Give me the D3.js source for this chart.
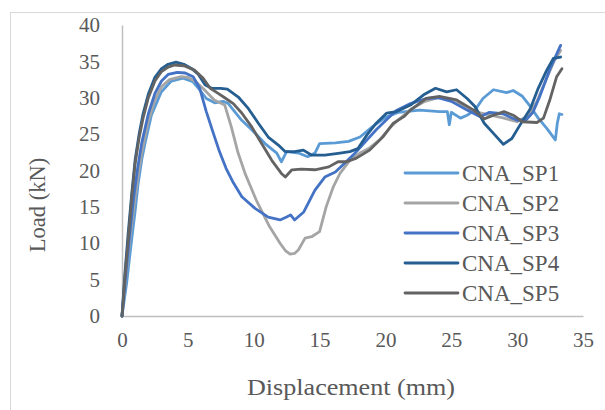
<!DOCTYPE html>
<html lang="en">
<head>
  <meta charset="UTF-8" />
  <title>Load vs Displacement</title>
  <style>
    body { margin: 0; background: #fff; }
    svg { display: block; }
    text { font-family: "Liberation Serif", "Times New Roman", serif; fill: #595959; }
  </style>
</head>
<body>
  <svg width="605" height="410"></svg>

  <script src="https://d3js.org/d3.v7.min.js"></script>
  <script>
    // series names and colours
    const seriesNames = ['CNA_SP1', 'CNA_SP2', 'CNA_SP3', 'CNA_SP4', 'CNA_SP5'];
    const seriesColors = ['#5B9BD5', '#A5A5A5', '#4472C4', '#255E91', '#636363'];

    // tick values
    const xTicks = [0, 5, 10, 15, 20, 25, 30, 35];
    const yTicks = [0, 5, 10, 15, 20, 25, 30, 35, 40];

    // [displacement (mm), load (kN)]
    const sp1 = [[0,0],[0.35,4.5],[0.7,10],[1.0,14.5],[1.21,18],[1.5,21.5],[1.72,23.5],[2.23,27.6],[2.98,30.8],
      [3.74,32.3],[4.63,32.7],[5.39,32.2],[5.9,31.1],[6.4,29.9],[7.04,29.3],[7.67,29.5],[8.07,29.2],[8.6,28.0],
      [9.09,26.9],[9.85,25.6],[10.86,23.7],[11.75,22.4],[12.1,21.2],[12.5,22.6],[13.4,22.4],[14.1,21.9],[14.65,22.4],
      [15.0,23.7],[16.2,23.8],[17.2,24.0],[18.07,24.6],[19.0,26.0],[20.0,27.3],[21.0,28.0],[22.6,28.3],[24.1,28.1],
      [24.7,28.1],[24.85,26.3],[25.0,28.0],[25.7,27.2],[26.2,27.6],[26.8,28.3],[27.4,29.9],[28.2,31.1],[29.2,30.7],
      [29.7,31.0],[30.4,30.2],[31.0,28.8],[31.6,27.2],[32.25,25.8],[32.9,24.2],[33.05,26.5],[33.2,27.8],[33.4,27.7]];
    const sp2 = [[0,0],[0.3,5.5],[0.6,10.5],[0.9,15],[1.2,19],[1.5,22.5],[2.0,26.8],[2.5,29.7],[3.0,31.5],[3.6,32.5],
      [4.5,32.9],[5.0,32.8],[5.6,32.2],[6.2,31.2],[7.0,29.7],[7.8,29.0],[8.3,26.0],[8.8,22.5],[9.34,19.6],[10.2,15.9],
      [11.2,12.3],[12.0,10.0],[12.4,9.0],[12.76,8.5],[13.1,8.6],[13.4,9.1],[13.9,10.7],[14.4,10.9],[15.0,11.6],
      [15.5,15.0],[16.05,17.8],[16.55,19.6],[17.3,21.4],[18.07,22.4],[18.8,23.1],[19.6,24.3],[20.3,25.8],[21.0,27.0],
      [22.0,28.5],[23.0,29.5],[24.0,30.0],[25.0,29.6],[26.0,28.8],[27.0,28.0],[28.0,27.6],[29.0,27.2],[30.0,26.7],
      [30.8,27.5],[31.5,29.5],[32.2,32.5],[32.8,35.0],[33.3,36.5]];
    const sp3 = [[0,0],[0.3,6],[0.6,11.5],[0.9,16.5],[1.2,20.5],[1.5,23.8],[2.0,27.8],[2.5,30.6],[3.0,32.3],[3.5,33.2],
      [4.2,33.5],[4.8,33.4],[5.4,32.9],[5.9,31.3],[6.4,28.1],[6.9,25.3],[7.4,22.6],[7.9,20.3],[8.4,18.5],[9.1,16.4],
      [10.1,14.8],[11.1,13.6],[12.0,13.2],[12.5,13.6],[12.8,13.9],[13.1,13.2],[13.8,14.3],[14.65,17.3],[15.4,19.1],
      [16.2,19.8],[16.9,21.0],[17.7,22.4],[18.5,24.0],[19.3,25.6],[20.1,27.0],[20.8,28.2],[21.9,29.2],[23.1,29.9],
      [24.0,30.0],[25.0,29.5],[26.2,28.3],[27.2,27.4],[27.9,28.0],[28.9,27.8],[30.0,26.9],[30.7,27.0],[31.2,28.0],
      [31.7,30.1],[32.5,34.0],[33.3,37.2]];
    const sp4 = [[0,0],[0.25,6.5],[0.5,12],[0.75,17],[1.0,21.5],[1.3,25],[1.6,27.8],[2.0,30.5],[2.5,32.8],[3.0,34.0],
      [3.5,34.6],[4.1,34.9],[4.7,34.6],[5.3,34.0],[5.8,33.2],[6.3,31.8],[6.8,31.3],[7.5,31.3],[8.0,31.2],[8.83,30.1],
      [9.6,28.5],[10.35,26.5],[11.1,24.6],[11.87,23.5],[12.38,22.6],[13.1,22.6],[13.77,22.8],[14.4,22.1],[15.4,22.1],
      [16.55,22.4],[17.3,22.6],[17.9,23.0],[18.6,24.9],[19.3,26.5],[20.1,27.9],[20.86,28.1],[21.9,29.0],[22.9,30.4],
      [23.8,31.3],[24.65,30.8],[25.4,31.1],[26.2,29.9],[26.8,28.8],[27.5,26.5],[28.2,25.1],[28.95,23.6],[29.6,24.4],
      [30.2,26.2],[31.0,28.5],[31.6,31.3],[32.25,33.8],[32.75,35.4],[33.3,35.6]];
    const sp5 = [[0,0],[0.25,6],[0.5,11],[0.75,16.5],[1.0,21],[1.3,24.5],[1.6,27.2],[2.0,30],[2.5,32.3],[3.0,33.6],
      [3.5,34.2],[4.0,34.5],[4.7,34.4],[5.5,33.8],[6.15,32.7],[6.7,31.3],[7.3,30.6],[7.8,30.0],[8.45,29.2],[9.09,27.9],
      [9.85,26.0],[10.6,23.7],[11.37,21.4],[12.1,19.6],[12.4,19.1],[12.9,20.1],[13.6,20.2],[14.65,20.1],[15.7,20.5],
      [16.4,21.2],[17.06,21.2],[17.8,21.7],[18.8,22.8],[19.8,24.6],[20.6,26.5],[21.4,27.4],[21.9,28.3],[23.1,29.9],
      [24.1,30.2],[25.4,29.7],[26.7,28.3],[27.5,27.1],[28.2,27.6],[29.0,28.1],[29.7,27.6],[30.4,26.7],[31.5,26.6],
      [32.0,27.2],[32.5,29.8],[33.0,32.9],[33.4,34.0]];

    const seriesData = [sp1, sp2, sp3, sp4, sp5];

    const svg = d3.select('svg');

    // chart border
    svg.append('rect')
      .attr('x', 10.5).attr('y', 12.5)
      .attr('width', 620).attr('height', 420)
      .attr('fill', 'none')
      .attr('stroke', '#D9D9D9');

    const x = d3.scaleLinear().domain([0, 35]).range([122, 583]);
    const y = d3.scaleLinear().domain([0, 40]).range([316, 25]);

    // axes
    const xAxis = svg.append('g')
      .attr('transform', 'translate(0,316)')
      .call(d3.axisBottom(x).tickValues(xTicks).tickSize(0).tickPadding(16));
    xAxis.select('.domain').attr('stroke', '#BFBFBF').attr('stroke-width', 1.5);
    xAxis.selectAll('text').attr('font-size', 21).attr('fill', '#595959')
      .style('font-family', '"Liberation Serif", serif');

    const yAxis = svg.append('g')
      .attr('transform', 'translate(122,0)')
      .call(d3.axisLeft(y).tickValues(yTicks).tickSize(0).tickPadding(22));
    yAxis.select('.domain').attr('stroke', '#BFBFBF').attr('stroke-width', 1.5);
    yAxis.selectAll('text').attr('font-size', 21).attr('fill', '#595959')
      .style('font-family', '"Liberation Serif", serif');

    // axis titles
    svg.append('text')
      .attr('x', 351).attr('y', 395)
      .attr('text-anchor', 'middle')
      .attr('font-size', 24)
      .attr('textLength', 208)
      .attr('lengthAdjust', 'spacingAndGlyphs')
      .text('Displacement (mm)');

    svg.append('text')
      .attr('transform', 'translate(45,205) rotate(-90)')
      .attr('text-anchor', 'middle')
      .attr('font-size', 22.5)
      .text('Load (kN)');

    // curves
    const line = d3.line().x(d => x(d[0])).y(d => y(d[1]));
    svg.append('g').selectAll('path')
      .data(seriesData)
      .enter().append('path')
      .attr('d', line)
      .attr('fill', 'none')
      .attr('stroke', (d, i) => seriesColors[i])
      .attr('stroke-width', 2.8)
      .attr('stroke-linejoin', 'round')
      .attr('stroke-linecap', 'round');

    // legend
    const legend = svg.append('g').attr('transform', 'translate(405,173)');
    const items = legend.selectAll('g')
      .data(seriesNames)
      .enter().append('g')
      .attr('transform', (d, i) => 'translate(0,' + i * 30 + ')');
    items.append('line')
      .attr('x1', 0).attr('x2', 53)
      .attr('stroke', (d, i) => seriesColors[i])
      .attr('stroke-width', 2.8)
      .attr('stroke-linecap', 'round');
    items.append('text')
      .attr('x', 57).attr('y', 8)
      .attr('font-size', 23)
      .text(d => d);
  </script>
</body>
</html>
